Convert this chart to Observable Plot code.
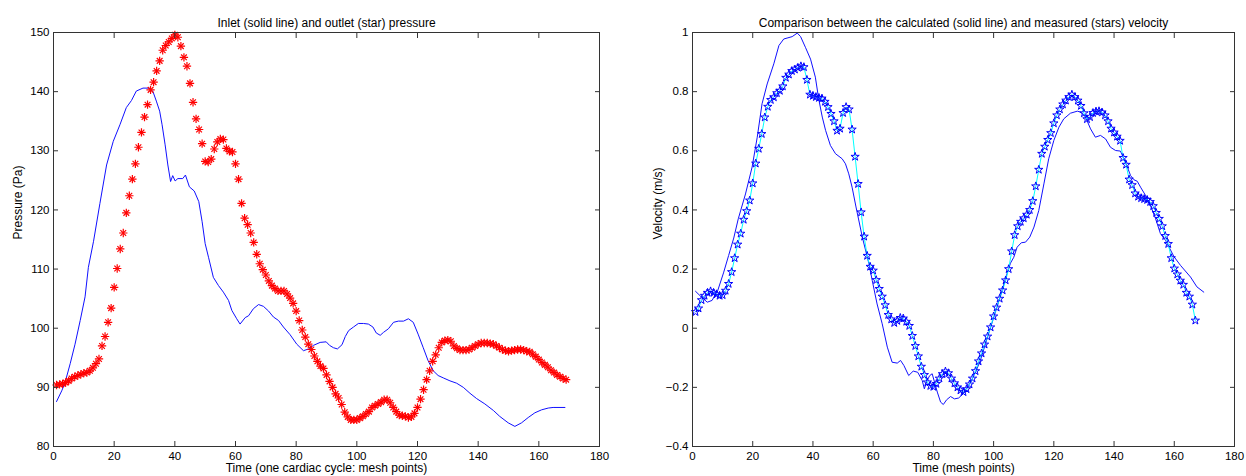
<!DOCTYPE html>
<html><head><meta charset="utf-8">
<script src="https://cdn.jsdelivr.net/npm/d3@7"></script>
<script src="https://cdn.jsdelivr.net/npm/@observablehq/plot@0.6"></script>
<style>
body{margin:0;background:#fff;}
#wrap{position:relative;width:1246px;height:476px;background:#fff;}
#left{position:absolute;left:0;top:0;}
#right{position:absolute;left:623px;top:0;}
</style></head><body><div id="wrap"><div id="left"></div><div id="right"></div></div>
<script>
// ---------- Tick labels ----------
const xTicks = [0, 20, 40, 60, 80, 100, 120, 140, 160, 180];
const pressureTicks = [80, 90, 100, 110, 120, 130, 140, 150];
const velocityTicks = [-0.4, -0.2, 0, 0.2, 0.4, 0.6, 0.8, 1];

// ---------- Left panel: pressure ----------
// outlet pressure (stars), mesh points 1..169
const outletPressure = [
  90.4, 90.5, 90.6, 90.8, 91.1, 91.5, 91.8, 92.0, 92.2, 92.4,
  92.5, 92.8, 93.3, 94.0, 94.8, 97.0, 98.6, 101.0, 103.4, 106.9,
  110.1, 113.4, 116.1, 119.5, 122.4, 125.2, 127.8, 130.6, 133.1, 135.7,
  137.8, 140.3, 141.6, 143.5, 145.2, 147.0, 147.8, 148.4, 149.0, 149.6,
  149.2, 147.7, 145.8, 144.3, 141.4, 138.2, 135.4, 133.6, 131.2, 128.2,
  128.1, 128.6, 130.3, 131.5, 132.0, 131.9, 130.4, 129.9, 129.8, 127.8,
  125.2, 121.1, 118.6, 117.5, 116.1, 114.5, 112.5, 110.9, 109.9, 109.0,
  108.0, 107.2, 106.7, 106.3, 106.3, 106.3, 105.8, 105.1, 104.2, 102.9,
  101.3, 99.7, 98.5, 97.3, 96.4, 95.3, 94.4, 93.6, 93.2, 92.1,
  91.0, 90.0, 88.9, 88.2, 87.1, 85.8, 85.0, 84.5, 84.5, 84.5,
  84.8, 85.1, 85.5, 85.9, 86.6, 86.9, 87.2, 87.5, 87.9, 87.9,
  87.4, 86.6, 85.9, 85.3, 85.2, 85.1, 84.9, 85.0, 85.6, 86.6,
  88.0, 89.6, 91.3, 92.8, 94.4, 95.5, 96.7, 97.6, 97.9, 98.0,
  97.8, 97.0, 96.6, 96.3, 96.3, 96.3, 96.4, 96.7, 97.0, 97.3,
  97.5, 97.5, 97.5, 97.4, 97.3, 97.0, 96.7, 96.4, 96.2, 96.1,
  96.2, 96.3, 96.4, 96.4, 96.3, 96.1, 96.0, 95.6, 95.2, 94.7,
  94.2, 93.8, 93.4, 92.9, 92.5, 92.1, 91.8, 91.5, 91.3
];
// inlet pressure (solid line): time, value
const inletTime = [1, 2.7, 3.8, 5.5, 7.1, 8.8, 10.4, 11.5, 13.2, 15.3, 17.5, 19.7, 21.9, 24, 25.7, 27.3, 29.5, 31.7, 32.8, 33.9,
  35, 35.8, 36.8, 37.7, 38.6, 39.3, 40.1, 41, 42.6, 43.5, 44.8, 46.4, 47.9, 49, 50, 51.1, 52.7, 54.4, 56, 57.7,
  58.8, 60.4, 61.5, 63.2, 64.3, 65.9, 67.6, 69.2, 70.9, 72.5, 74.2, 75.8, 78, 80.2, 82.4, 84.1, 85.7, 87.9, 89.9, 91,
  92.3, 93.6, 95.1, 96.2, 97.3, 98.9, 100.5, 102.2, 103.8, 105.3, 106.4, 107.7, 108.8, 110.4, 112.1, 113.7, 115.4, 117, 118.6, 120.2,
  121.9, 123.5, 125.2, 126.8, 128.5, 130.7, 132.9, 135.1, 137.3, 139.5, 142.2, 145, 147.1, 149.9, 152.1, 154.3, 156.5, 158.7, 160.9, 163.1,
  164.7, 168.6];
const inletPressure = [87.6, 89.4, 90.8, 94.0, 97.3, 101.3, 105.3, 110.3, 114.7, 121.1, 127.6, 131.6, 134.4, 137.3, 138.5, 140.1, 140.6, 140.6, 140.0, 138.4,
  136.7, 134.4, 131.0, 127.6, 124.8, 125.8, 124.9, 125.3, 125.3, 125.9, 123.9, 123.2, 121.4, 118.0, 114.3, 112.0, 108.6, 107.2, 106.1, 104.7,
  103.0, 101.6, 100.7, 101.8, 102.1, 103.3, 104.0, 103.7, 102.9, 101.9, 101.3, 100.2, 98.9, 97.3, 96.2, 96.5, 97.1, 97.6, 97.7, 97.1,
  96.7, 96.5, 97.2, 98.6, 99.6, 100.2, 100.8, 100.8, 100.7, 100.2, 99.2, 98.8, 99.3, 99.9, 101.0, 101.2, 101.2, 101.6, 101.0, 99.0,
  96.7, 94.5, 92.8, 92.0, 91.6, 91.1, 90.7, 90.0, 89.0, 88.1, 87.2, 86.1, 85.1, 84.0, 83.4, 84.0, 84.9, 85.7, 86.2, 86.5,
  86.6, 86.6];

// ---------- Right panel: velocity ----------
// measured velocity (stars), mesh points 1..167
const measuredVelocity = [
  0.055, 0.067, 0.095, 0.11, 0.12, 0.125, 0.12, 0.115, 0.11, 0.112,
  0.127, 0.15, 0.19, 0.237, 0.283, 0.32, 0.367, 0.396, 0.432, 0.49,
  0.557, 0.607, 0.657, 0.713, 0.749, 0.772, 0.781, 0.795, 0.803, 0.818,
  0.847, 0.858, 0.870, 0.875, 0.881, 0.886, 0.883, 0.84, 0.79, 0.786,
  0.782, 0.779, 0.777, 0.766, 0.748, 0.725, 0.70, 0.668, 0.675, 0.728,
  0.748, 0.74, 0.672, 0.58, 0.488, 0.392, 0.31, 0.245, 0.208, 0.195,
  0.163, 0.133, 0.107, 0.078, 0.045, 0.03, 0.018, 0.025, 0.035, 0.033,
  0.022, 0.008, -0.026, -0.06, -0.095, -0.13, -0.158, -0.183, -0.195, -0.198,
  -0.188, -0.17, -0.155, -0.146, -0.152, -0.17, -0.186, -0.2, -0.21, -0.216,
  -0.206, -0.19, -0.17, -0.145, -0.112, -0.085, -0.055, -0.028, 0.003, 0.04,
  0.07, 0.1, 0.128, 0.162, 0.2, 0.26, 0.315, 0.345, 0.36, 0.372,
  0.384, 0.4, 0.43, 0.48, 0.536, 0.59, 0.614, 0.637, 0.66, 0.693,
  0.72, 0.74, 0.757, 0.77, 0.782, 0.79, 0.782, 0.77, 0.752, 0.727,
  0.707, 0.714, 0.728, 0.733, 0.734, 0.73, 0.72, 0.70, 0.675, 0.662,
  0.648, 0.634, 0.576, 0.553, 0.503, 0.484, 0.456, 0.445, 0.44, 0.437,
  0.434, 0.427, 0.413, 0.39, 0.37, 0.345, 0.312, 0.285, 0.237, 0.202,
  0.182, 0.161, 0.147, 0.12, 0.107, 0.08, 0.026
];
// calculated velocity (solid line): time, value
const calcTime = [1, 3, 4.9, 6.5, 8.4, 10.3, 12, 13.7, 15.2, 17.6, 19.8, 21.5, 23.1, 24.8, 27, 28.7, 30.3, 31.7, 33.1, 34.8,
  35.9, 37.5, 39.2, 40.8, 41.9, 43.1, 44.2, 45.8, 47.5, 49.7, 50.8, 51.9, 53, 54.3, 56.4, 58.6, 59.7, 61.3, 63, 64.7,
  66.3, 68, 69.1, 70.2, 71.8, 73.3, 74.8, 76.3, 77, 77.9, 78.8, 79.6, 80.4, 81.3, 82.4, 83.3, 84.4, 85.7, 87, 88.4,
  89.6, 90.7, 92.3, 94, 95.6, 97.3, 99, 100.6, 102.3, 104, 105.6, 106.7, 107.8, 109.2, 110.6, 112, 113.4, 115, 116.7, 118.3,
  120, 121.7, 123.3, 125.5, 127.8, 129.1, 130.5, 132.2, 133.8, 135.5, 137.2, 138.8, 140.5, 142.1, 143.8, 145.5, 146.6, 147.7, 148.8, 150.4,
  152.1, 153.8, 155.4, 157.1, 159.9, 162.1, 165.4, 167.5, 169.8];
const calcVelocity = [0.125, 0.105, 0.088, 0.094, 0.128, 0.187, 0.246, 0.305, 0.37, 0.454, 0.545, 0.646, 0.759, 0.826, 0.894, 0.956, 0.978, 0.982, 0.986, 0.998,
  0.986, 0.95, 0.91, 0.849, 0.776, 0.714, 0.669, 0.618, 0.590, 0.573, 0.556, 0.522, 0.477, 0.41, 0.308, 0.218, 0.161, 0.082, 0.015, -0.064,
  -0.115, -0.118, -0.109, -0.126, -0.16, -0.145, -0.149, -0.177, -0.205, -0.177, -0.16, -0.154, -0.183, -0.216, -0.25, -0.258, -0.242, -0.231, -0.239, -0.236,
  -0.224, -0.208, -0.183, -0.149, -0.109, -0.053, 0.003, 0.054, 0.11, 0.17, 0.22, 0.24, 0.274, 0.289, 0.291, 0.308, 0.342, 0.398, 0.488, 0.573,
  0.635, 0.68, 0.708, 0.727, 0.734, 0.730, 0.714, 0.674, 0.646, 0.652, 0.64, 0.612, 0.601, 0.599, 0.561, 0.516, 0.502, 0.497, 0.477, 0.45,
  0.415, 0.37, 0.32, 0.297, 0.242, 0.212, 0.173, 0.14, 0.122];

// ---------- Helpers ----------
const FONT = "'Liberation Sans', Arial, Helvetica, sans-serif";
const AX = "#333";
const fmtNum = d => (Math.round(d * 10) / 10).toString().replace("-", "\u2212");
const blank = () => "";

function panel(o) {
  return Plot.plot({
    width: o.width, height: 476,
    marginLeft: o.marginLeft, marginRight: o.marginRight, marginTop: 32, marginBottom: 30,
    style: {fontFamily: FONT, fontSize: "12px", color: "#000", background: "#fff", overflow: "visible"},
    x: {domain: [0, 180]},
    y: {domain: o.yDomain},
    marks: [
      ...o.marks,
      Plot.frame({stroke: AX, strokeWidth: 1}),
      Plot.axisX(xTicks, {anchor: "bottom", tickSize: -5, tickPadding: 10, label: null, stroke: AX, fill: "#000", fontSize: 11.5}),
      Plot.axisX(xTicks, {anchor: "top", tickSize: -5, tickFormat: blank, label: null, stroke: AX}),
      Plot.axisY(o.yTicks, {anchor: "left", tickSize: -5, tickPadding: 9, label: null, tickFormat: fmtNum, stroke: AX, fill: "#000", fontSize: 11.5}),
      Plot.axisY(o.yTicks, {anchor: "right", tickSize: -5, tickFormat: blank, label: null, stroke: AX}),
      Plot.text([o.title], {text: d => d, frameAnchor: "top", dy: -14, fill: "#000"}),
      Plot.text([o.xLabel], {text: d => d, frameAnchor: "bottom", dy: 25.5, fill: "#000"}),
      Plot.text([o.yLabel], {text: d => d, frameAnchor: "left", dx: o.yLabelDx, rotate: -90, fill: "#000"})
    ]
  });
}

// ---------- Left chart ----------
const inletRows = inletTime.map((t, i) => ({t, p: inletPressure[i]}));
const outletRows = outletPressure.map((p, i) => ({t: i + 1, p}));
document.getElementById("left").append(panel({
  width: 623, marginLeft: 53, marginRight: 24,
  yDomain: [80, 150], yTicks: pressureTicks,
  title: "Inlet (solid line) and outlet (star) pressure",
  xLabel: "Time (one cardiac cycle: mesh points)",
  yLabel: "Pressure (Pa)", yLabelDx: -35,
  marks: [
    Plot.line(inletRows, {x: "t", y: "p", stroke: "#1010ff", strokeWidth: 1}),
    Plot.dot(outletRows, {x: "t", y: "p", symbol: "plus", r: 2.8, stroke: "#ff0000", fill: "none", strokeWidth: 1.2}),
    Plot.dot(outletRows, {x: "t", y: "p", symbol: "times", r: 2.7, stroke: "#ff0000", fill: "none", strokeWidth: 1.2})
  ]
}));

// ---------- Right chart ----------
const calcRows = calcTime.map((t, i) => ({t, v: calcVelocity[i]}));
const measRows = measuredVelocity.map((v, i) => ({t: i + 1, v}));
document.getElementById("right").append(panel({
  width: 623, marginLeft: 69, marginRight: 12,
  yDomain: [-0.4, 1], yTicks: velocityTicks,
  title: "Comparison between the calculated (solid line) and measured (stars) velocity",
  xLabel: "Time (mesh points)",
  yLabel: "Velocity (m/s)", yLabelDx: -34,
  marks: [
    Plot.line(calcRows, {x: "t", y: "v", stroke: "#1010ff", strokeWidth: 1}),
    Plot.line(measRows, {x: "t", y: "v", stroke: "#00ffff", strokeWidth: 1}),
    Plot.dot(measRows, {x: "t", y: "v", symbol: "star", r: 2.6, stroke: "#0000ff", fill: "none", strokeWidth: 1})
  ]
}));
</script>
</body></html>
